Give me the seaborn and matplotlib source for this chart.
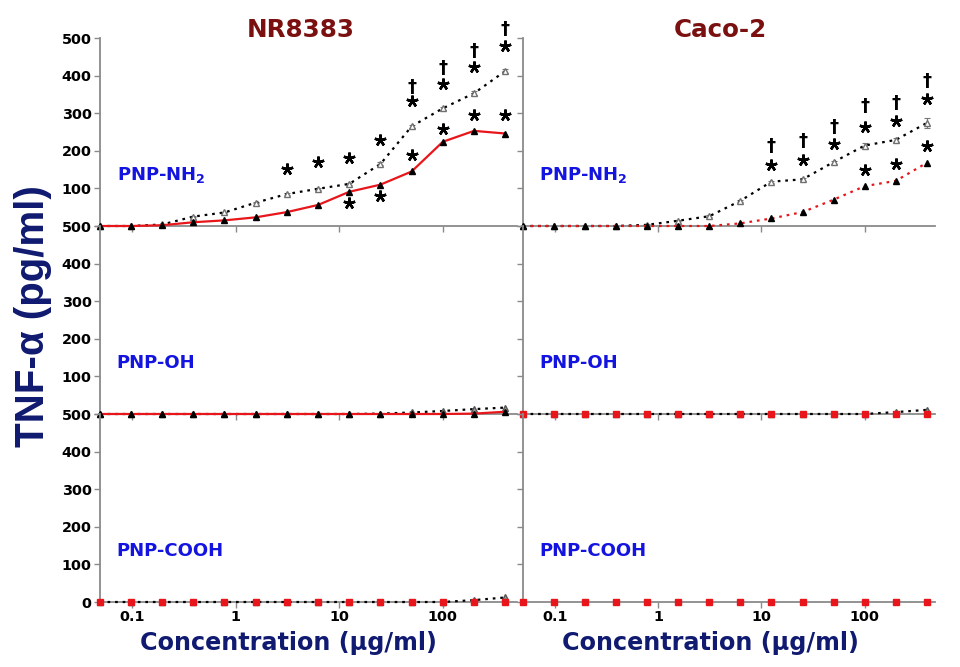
import numpy as np
import pandas as pd
import matplotlib
matplotlib.use("Agg")
import matplotlib.pyplot as plt
from matplotlib.ticker import NullLocator
import seaborn as sns

# concentrations (ug/ml), two-fold dilutions
conc = [0.049, 0.098, 0.195, 0.39, 0.78, 1.56, 3.125, 6.25, 12.5, 25, 50, 100, 200, 400]

# NR8383 cells
nr_nh2_a = [0, 0, 2, 10, 15, 23, 37, 56, 91, 110, 145, 224, 253, 246]
nr_nh2_b = [0, 0, 4, 25, 36, 62, 85, 99, 112, 165, 265, 313, 353, 412]
nr_nh2_b_err = [0, 0, 1, 2, 2, 2, 3, 3, 3, 4, 4, 4, 5, 5]
nr_oh_a = [0, 0, 0, 0, 0, 0, 0, 0, 0, 0, 0, 0, 1, 6]
nr_oh_b = [0, 0, 0, 0, 0, 0, 0, 0, 0, 1, 4, 8, 13, 17]
nr_cooh_a = [0, 0, 0, 0, 0, 0, 0, 0, 0, 0, 0, 0, 0, 0]
nr_cooh_b = [0, 0, 0, 0, 0, 0, 0, 0, 0, 0, 0, 0, 5, 12]

# Caco-2 cells
ca_nh2_a = [0, 0, 0, 0, 0, 0, 0, 7, 20, 37, 70, 106, 120, 168]
ca_nh2_b = [0, 0, 0, 0, 3, 14, 26, 67, 118, 124, 170, 214, 229, 274]
ca_nh2_b_err = [0, 0, 0, 0, 1, 2, 2, 3, 3, 3, 4, 6, 6, 13]
ca_oh_a = [0, 0, 0, 0, 0, 0, 0, 0, 0, 0, 0, 0, 0, 0]
ca_oh_b = [0, 0, 0, 0, 0, 0, 0, 0, 0, 0, 0, 0, 5, 11]
ca_cooh_a = [0, 0, 0, 0, 0, 0, 0, 0, 0, 0, 0, 0, 0, 0]

# significance marks (concentration, height)
nr_ast_x = [3.125, 6.25, 12.5, 25, 50, 100, 200, 400, 12.5, 25, 50, 100, 200, 400]
nr_ast_y = [152, 170, 180, 228, 333, 378, 423, 479, 61, 79, 190, 257, 294, 294]
nr_dag_x = [50, 100, 200, 400]
nr_dag_y = [370, 420, 465, 523]
ca_ast_x = [12.5, 25, 50, 100, 200, 400, 100, 200, 400]
ca_ast_y = [161, 176, 217, 264, 278, 337, 148, 164, 214]
ca_dag_x = [12.5, 25, 50, 100, 200, 400]
ca_dag_y = [214, 227, 264, 318, 328, 386]

sns.set_style("ticks")
plt.rcParams['font.family'] = ['DejaVu Sans']
plt.rcParams['font.weight'] = 'bold'
plt.rcParams['mathtext.fontset'] = 'custom'
plt.rcParams['mathtext.bf'] = 'DejaVu Sans:bold'
plt.rcParams['mathtext.rm'] = 'DejaVu Sans:bold'

RED = '#e8161b'
GRAY = '#8a8a8a'
NAVY = '#0f1a70'
DOT = (0, (1.2, 2.2))

fig = plt.figure(figsize=(9.6, 6.67), dpi=100)
W, H = 960, 667
col_x = [(100, 417), (523, 412)]
row_top = [38, 226, 414]
ph = 188

axes = [[None, None] for _ in range(3)]
for r in range(3):
    for c in range(2):
        x0, w = col_x[c]
        axes[r][c] = fig.add_axes([x0 / W, 1 - (row_top[r] + ph) / H, w / W, ph / H])


def draw(ax, y, color, ls, mfc, mec, marker='^', ms=4.5, err=None):
    df = pd.DataFrame({'conc': conc, 'val': y})
    sns.lineplot(data=df, x='conc', y='val', ax=ax, color=color, linestyle=ls, lw=1.6,
                 marker=marker, markersize=ms, markerfacecolor=mfc, markeredgecolor=mec,
                 markeredgewidth=1, clip_on=False, zorder=3)
    if err is not None:
        ax.errorbar(conc, y, yerr=err, fmt='none', ecolor='#777777', elinewidth=0.8,
                    capsize=2.5, capthick=0.8, clip_on=False, zorder=2)


def marks(ax, ax_x, ax_y, dg_x, dg_y):
    ax.plot(ax_x, ax_y, linestyle='none', marker=(5, 2, 0), markersize=8.5,
            markeredgewidth=1.8, color='black', clip_on=False, zorder=4)
    for x, y in zip(dg_x, dg_y):
        ax.text(x, y, '\u2020', ha='center', va='center', fontsize=13,
                fontweight='bold', color='black', clip_on=False)


# NR8383 column
draw(axes[0][0], nr_nh2_b, 'black', DOT, 'white', '#707070', err=nr_nh2_b_err)
draw(axes[0][0], nr_nh2_a, RED, '-', 'black', 'black')
marks(axes[0][0], nr_ast_x, nr_ast_y, nr_dag_x, nr_dag_y)
draw(axes[1][0], nr_oh_b, 'black', DOT, '#9a9a9a', '#555555')
draw(axes[1][0], nr_oh_a, RED, '-', 'black', 'black')
draw(axes[2][0], nr_cooh_b, 'black', DOT, '#9a9a9a', '#555555')
draw(axes[2][0], nr_cooh_a, RED, 'none', RED, RED, marker='s', ms=4)

# Caco-2 column
draw(axes[0][1], ca_nh2_b, 'black', DOT, 'white', '#707070', err=ca_nh2_b_err)
draw(axes[0][1], ca_nh2_a, RED, DOT, 'black', 'black')
marks(axes[0][1], ca_ast_x, ca_ast_y, ca_dag_x, ca_dag_y)
draw(axes[1][1], ca_oh_b, 'black', DOT, '#9a9a9a', '#555555')
draw(axes[1][1], ca_oh_a, RED, 'none', RED, RED, marker='s', ms=4)
draw(axes[2][1], ca_cooh_a, RED, 'none', RED, RED, marker='s', ms=4)

panel_names = ['PNP-NH$_{\\mathbf{2}}$', 'PNP-OH', 'PNP-COOH']
yticks = [0, 100, 200, 300, 400, 500]
for r in range(3):
    for c in range(2):
        ax = axes[r][c]
        ax.set_xscale('log')
        ax.set_xlim(0.049, 520 if c == 0 else 480)
        ax.set_ylim(0, 500)
        ax.xaxis.set_minor_locator(NullLocator())
        ax.set_xticks([0.1, 1, 10, 100])
        ax.set_yticks(yticks)
        if r == 2:
            ax.set_xticklabels(['0.1', '1', '10', '100'])
        else:
            ax.set_xticklabels([])
        if c == 0:
            labs = [str(v) for v in yticks]
            if r < 2:
                labs[0] = ''
            ax.set_yticklabels(labs)
        else:
            ax.set_yticklabels([])
        ax.set_xlabel('')
        ax.set_ylabel('')
        ax.set_facecolor('none')
        for s in ['top', 'right']:
            ax.spines[s].set_visible(False)
        for s in ['left', 'bottom']:
            ax.spines[s].set_color(GRAY)
            ax.spines[s].set_linewidth(1.3)
        ax.tick_params(axis='both', direction='out', length=4, width=1, color=GRAY,
                       labelsize=10.4, labelcolor='black', pad=2)
        for lab in ax.get_xticklabels() + ax.get_yticklabels():
            lab.set_fontweight('bold')
        ax.text(0.04, 0.27, panel_names[r], transform=ax.transAxes, ha='left', va='center',
                fontsize=13, fontweight='bold', color='#1414e0')

fig.text(301 / W, 1 - 30 / H, 'NR8383', ha='center', va='center', fontsize=17.7,
         fontweight='bold', color='#7a1010')
fig.text(720 / W, 1 - 30 / H, 'Caco-2', ha='center', va='center', fontsize=17.7,
         fontweight='bold', color='#7a1010')
fig.text(288 / W, 1 - 643 / H, 'Concentration (\u03bcg/ml)', ha='center', va='center',
         fontsize=17.2, fontweight='bold', color=NAVY)
fig.text(710 / W, 1 - 643 / H, 'Concentration (\u03bcg/ml)', ha='center', va='center',
         fontsize=17.2, fontweight='bold', color=NAVY)
fig.text(33 / W, 1 - 316 / H, 'TNF-\u03b1 (pg/ml)', ha='center', va='center', rotation=90,
         fontsize=29, fontweight='bold', color=NAVY, family='Liberation Sans')

fig.savefig('out.png', dpi=100, facecolor='white')
